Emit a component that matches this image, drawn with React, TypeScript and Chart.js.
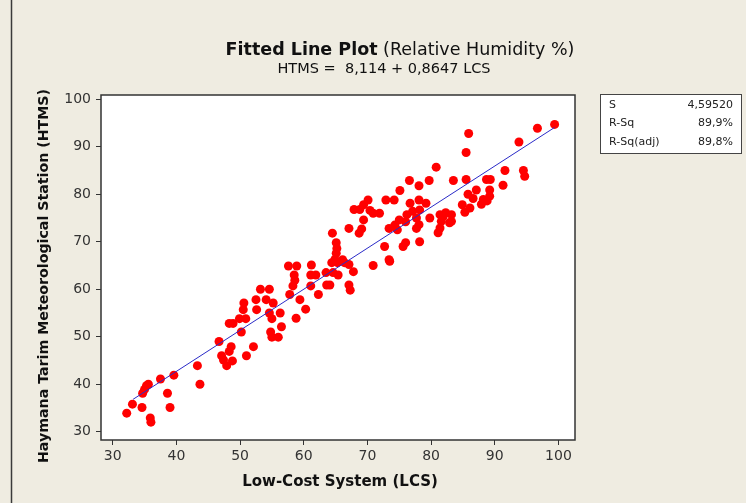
import React, { useEffect, useRef } from "react";
import { Chart, registerables } from "chart.js";

Chart.register(...registerables);

// Low-Cost System readings (x)
const lcs = [
  32.2, 33.1, 34.6, 34.7, 35.0, 35.3, 35.6, 35.9, 36.0, 37.5,
  38.6, 39.0, 39.6, 43.3, 43.7, 46.7, 47.1, 47.4, 47.9, 48.6,
  48.3, 48.8, 48.3, 48.9, 49.9, 50.2, 50.6, 50.5, 50.9, 51.0,
  52.1, 52.5, 52.6, 53.2, 54.6, 54.1, 55.2, 54.6, 56.3, 55.0,
  56.5, 54.8, 55.0, 56.0, 57.6, 58.9, 61.2, 61.1, 58.5, 58.6,
  58.3, 61.9, 61.1, 57.8, 62.3, 63.5, 64.6, 65.4, 63.6, 64.1,
  67.1, 67.3, 67.8, 64.4, 65.3, 66.4, 70.9, 73.5, 59.4, 60.3,
  58.8, 80.8, 76.6, 78.1, 79.7, 83.5, 75.1, 72.9, 74.2, 70.1,
  69.4, 67.9, 68.8, 70.4, 70.9, 71.9, 69.4, 67.1, 69.1, 64.5,
  68.7, 76.7, 78.1, 79.2, 77.1, 78.2, 76.2, 75.0, 76.0, 74.3,
  73.4, 74.7, 77.7, 78.1, 77.7, 79.8, 81.4, 82.3, 83.2, 81.6,
  81.4, 81.1, 83.2, 78.2, 76.0, 75.6, 72.7, 73.4, 65.1, 65.2,
  64.9, 66.1, 67.1, 65.1, 99.4, 96.7, 85.9, 85.5, 93.8, 91.6,
  94.5, 94.7, 85.5, 88.7, 89.3, 91.3, 89.2, 87.1, 85.8, 89.2,
  86.6, 88.2, 88.8, 87.9, 84.9, 86.1, 85.3, 81.9, 82.9,
];

// Haymana Tarim Meteorological Station readings (y)
const htms = [
  33.9, 35.8, 35.1, 38.1, 38.9, 39.7, 40.0, 32.9, 32.0, 41.1,
  38.1, 35.1, 41.9, 43.9, 40.0, 49.0, 46.0, 45.1, 43.9, 47.9,
  46.9, 44.9, 52.8, 52.8, 53.8, 51.0, 57.1, 55.7, 53.8, 46.0,
  47.9, 57.8, 55.7, 60.0, 60.0, 57.8, 57.1, 55.0, 55.0, 53.8,
  52.1, 51.0, 49.9, 49.9, 64.9, 64.9, 65.1, 63.0, 63.0, 61.9,
  60.7, 63.0, 60.7, 58.9, 58.9, 63.5, 63.5, 63.0, 60.9, 60.9,
  60.9, 59.8, 63.7, 65.6, 65.6, 65.6, 65.0, 65.9, 57.8, 55.8,
  53.9, 85.7, 82.9, 81.8, 82.9, 82.9, 80.8, 78.8, 78.8, 78.8,
  77.8, 76.8, 76.8, 76.6, 76.0, 76.0, 74.6, 72.8, 72.7, 71.8,
  71.8, 78.1, 78.8, 78.1, 76.4, 76.7, 75.7, 74.6, 74.2, 73.5,
  72.8, 72.5, 75.0, 73.6, 72.8, 75.0, 75.7, 76.1, 75.7, 74.3,
  72.9, 71.9, 74.3, 70.0, 69.8, 69.0, 69.0, 66.2, 69.8, 68.6,
  66.3, 66.2, 65.2, 67.6, 94.7, 93.9, 92.8, 88.8, 91.0, 85.0,
  85.0, 83.8, 83.1, 83.1, 83.1, 81.9, 80.9, 80.9, 80.0, 79.6,
  79.1, 78.9, 78.6, 77.9, 77.8, 77.1, 76.2, 75.3, 74.0,
];

// Fitted line end points (HTMS = 8,114 + 0,8647 LCS)
const fitX = [33.2, 99.4];
const fitY = [36.82, 94.07];

const xTicks = [30, 40, 50, 60, 70, 80, 90, 100];
const yTicks = [30, 40, 50, 60, 70, 80, 90, 100];

const titleBold = "Fitted Line Plot";
const titleRest = " (Relative Humidity %)";
const subtitle = "HTMS =  8,114 + 0,8647 LCS";
const xTitle = "Low-Cost System (LCS)";
const yTitle = "Haymana Tarim Meteorological Station (HTMS)";
const statLabels = ["S", "R-Sq", "R-Sq(adj)"];
const statValues = ["4,59520", "89,9%", "89,8%"];

const FONT = "'DejaVu Sans', Verdana, sans-serif";

export default function App() {
  const ref = useRef<HTMLCanvasElement | null>(null);

  useEffect(() => {
    const canvas = ref.current;
    if (!canvas) return;

    const decor = {
      id: "decor",
      beforeDraw(chart: any) {
        const { ctx, chartArea: a, width, height } = chart;
        ctx.save();
        ctx.fillStyle = "#efece1";
        ctx.fillRect(0, 0, width, height);
        ctx.fillStyle = "#ffffff";
        ctx.fillRect(a.left, a.top, a.right - a.left, a.bottom - a.top);
        ctx.strokeStyle = "#3a3a3a";
        ctx.lineWidth = 1.5;
        ctx.beginPath();
        ctx.moveTo(11.5, 0);
        ctx.lineTo(11.5, height);
        ctx.stroke();
        ctx.restore();
      },
      afterDraw(chart: any) {
        const { ctx, chartArea: a } = chart;
        ctx.save();
        ctx.strokeStyle = "#333333";
        ctx.lineWidth = 1.5;
        ctx.strokeRect(a.left, a.top, a.right - a.left, a.bottom - a.top);

        // Title
        ctx.fillStyle = "#111111";
        ctx.textBaseline = "alphabetic";
        ctx.font = `bold 17.5px ${FONT}`;
        const wb = ctx.measureText(titleBold).width;
        ctx.font = `17.5px ${FONT}`;
        const wr = ctx.measureText(titleRest).width;
        const x0 = 400 - (wb + wr) / 2;
        ctx.font = `bold 17.5px ${FONT}`;
        ctx.textAlign = "left";
        ctx.fillText(titleBold, x0, 55);
        ctx.font = `17.5px ${FONT}`;
        ctx.fillText(titleRest, x0 + wb, 55);

        ctx.font = `14.5px ${FONT}`;
        ctx.textAlign = "center";
        ctx.fillText(subtitle, 384, 73);

        // Axis titles
        ctx.font = `bold 15px ${FONT}`;
        ctx.fillText(xTitle, 340, 486);
        ctx.save();
        ctx.translate(44, 276);
        ctx.rotate(-Math.PI / 2);
        ctx.textBaseline = "middle";
        ctx.font = `bold 14.2px ${FONT}`;
        ctx.fillText(yTitle, 0, 0);
        ctx.restore();

        // Stats box
        ctx.fillStyle = "#ffffff";
        ctx.fillRect(600, 94, 141, 59);
        ctx.strokeStyle = "#444444";
        ctx.lineWidth = 1;
        ctx.strokeRect(600.5, 94.5, 141, 59);
        ctx.fillStyle = "#222222";
        ctx.font = `11px ${FONT}`;
        ctx.textBaseline = "middle";
        statLabels.forEach((l, i) => {
          const y = 105 + i * 18.5;
          ctx.textAlign = "left";
          ctx.fillText(l, 609, y);
          ctx.textAlign = "right";
          ctx.fillText(statValues[i], 733, y);
        });
        ctx.restore();
      },
    };

    const chart = new Chart(canvas, {
      type: "scatter",
      data: {
        datasets: [
          {
            type: "line",
            data: fitX.map((x, i) => ({ x, y: fitY[i] })),
            borderColor: "#2b2bc8",
            borderWidth: 1,
            pointRadius: 0,
            order: 0,
          } as any,
          {
            type: "scatter",
            data: lcs.map((x, i) => ({ x, y: htms[i] })),
            backgroundColor: "#ff0000",
            borderColor: "#ff0000",
            borderWidth: 0,
            pointRadius: 4.5,
            order: 1,
          },
        ],
      },
      options: {
        responsive: false,
        animation: false,
        events: [],
        layout: { padding: { left: 61, right: 171, top: 95, bottom: 33 } },
        plugins: { legend: { display: false }, tooltip: { enabled: false }, title: { display: false } },
        scales: {
          x: {
            type: "linear",
            min: 28.16,
            max: 102.6,
            afterBuildTicks: (s: any) => {
              s.ticks = xTicks.map((v) => ({ value: v }));
            },
            afterFit: (s: any) => {
              s.height = 30;
            },
            border: { display: false },
            grid: { drawOnChartArea: false, drawTicks: true, tickLength: 5, color: "#333333", lineWidth: 1 },
            ticks: { color: "#333333", font: { family: FONT, size: 14 }, padding: 3, maxRotation: 0, autoSkip: false },
          },
          y: {
            type: "linear",
            min: 28.25,
            max: 100.9,
            afterBuildTicks: (s: any) => {
              s.ticks = yTicks.map((v) => ({ value: v }));
            },
            afterFit: (s: any) => {
              s.width = 40;
            },
            border: { display: false },
            grid: { drawOnChartArea: false, drawTicks: true, tickLength: 5, color: "#333333", lineWidth: 1 },
            ticks: { color: "#333333", font: { family: FONT, size: 14 }, padding: 5, autoSkip: false },
          },
        },
      },
      plugins: [decor],
    });

    return () => chart.destroy();
  }, []);

  return (
    <div style={{ position: "fixed", left: 0, top: 0, width: 746, height: 503 }}>
      <canvas ref={ref} width={746} height={503} style={{ display: "block", width: 746, height: 503 }} />
    </div>
  );
}
